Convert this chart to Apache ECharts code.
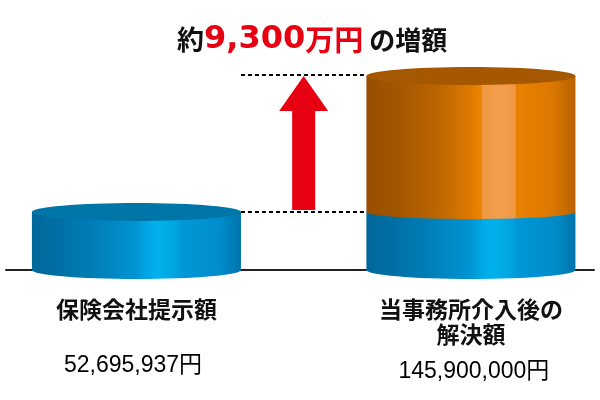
<!DOCTYPE html>
<html><head><meta charset="utf-8">
<script src="https://cdn.jsdelivr.net/npm/echarts@6/dist/echarts.min.js"></script>
<style>html,body{margin:0;padding:0;background:#fff}#c{width:600px;height:400px}</style>
</head><body><div id="c"></div>
<script>
// ---- data ----
const categories = ['保険会社提示額', '当事務所介入後の\n解決額'];
const offeredValues = [52695937, 52695937];      // blue part
const increaseValues = [0, 93204063];            // orange part (145,900,000 - 52,695,937)
const amountLabels = ['52,695,937円', '145,900,000円'];
const titleParts = ['約', '9,300', '万円', 'の増額'];

// ---- layout / style ----
const Y_MIN = 34130000;          // visual baseline of the (log) value axis
const Y_MAX = 145900000;
const BAR_W = 0.625;             // cylinder width in x units
const RY = 9;                    // ellipse half-height
const RY_JOIN = 7;

const blueGrad = {type:'linear', x:0, y:0, x2:1, y2:0, colorStops:[
  {offset:0, color:'#00679a'}, {offset:0.12, color:'#006fa3'}, {offset:0.3, color:'#007fb8'},
  {offset:0.5, color:'#0094d4'}, {offset:0.55, color:'#00a8e4'}, {offset:0.6, color:'#00b2ec'},
  {offset:0.68, color:'#00a6e2'}, {offset:0.72, color:'#0098d8'}, {offset:0.9, color:'#008ccb'},
  {offset:1, color:'#0074aa'}]};
const orangeGrad = {type:'linear', x:0, y:0, x2:1, y2:0, colorStops:[
  {offset:0, color:'#984f00'}, {offset:0.15, color:'#a35600'}, {offset:0.35, color:'#bd6600'},
  {offset:0.5, color:'#df7a00'}, {offset:0.55, color:'#ec8400'}, {offset:0.553, color:'#f0983f'},
  {offset:0.64, color:'#f2a050'}, {offset:0.712, color:'#f09842'}, {offset:0.716, color:'#e98100'},
  {offset:0.88, color:'#de7900'}, {offset:1, color:'#b86200'}]};

const barData = categories.map((c, i) => [i, offeredValues[i], offeredValues[i] + increaseValues[i]]);

function cylinderItem(params, api) {
  const i = api.value(0), base = api.value(1), total = api.value(2);
  const c0 = api.coord([i, Y_MIN]);
  const cB = api.coord([i, base]);
  const cT = api.coord([i, total]);
  const xl = api.coord([i - BAR_W / 2, Y_MIN])[0];
  const xr = api.coord([i + BAR_W / 2, Y_MIN])[0];
  const w = xr - xl, cx = (xl + xr) / 2, rx = w / 2;
  const ch = [];
  ch.push({type:'ellipse', shape:{cx:cx, cy:c0[1], rx:rx, ry:RY}, style:{fill:blueGrad}});
  ch.push({type:'rect', shape:{x:xl, y:cB[1], width:w, height:c0[1] - cB[1]}, style:{fill:blueGrad}});
  if (total > base) {
    ch.push({type:'ellipse', shape:{cx:cx, cy:cB[1], rx:rx, ry:RY_JOIN}, style:{fill:orangeGrad}});
    ch.push({type:'rect', shape:{x:xl, y:cT[1], width:w, height:cB[1] - cT[1]}, style:{fill:orangeGrad}});
    ch.push({type:'ellipse', shape:{cx:cx, cy:cT[1], rx:rx, ry:RY}, style:{fill:'#a65800'}});
  } else {
    ch.push({type:'ellipse', shape:{cx:cx, cy:cB[1], rx:rx, ry:RY}, style:{fill:'#0076a8'}});
  }
  const lines = categories[i].split('\n').length;
  ch.push({type:'text', x:cx, y:c0[1] + 27, style:{
    text:categories[i], fontSize:23, fontWeight:'bold', fontFamily:'"Noto Sans CJK JP"',
    fill:'#111', align:'center', verticalAlign:'top', lineHeight:25}});
  ch.push({type:'text', x:xl + 32, y:c0[1] + 96 + (lines - 1) * 5.5, style:{
    text:amountLabels[i], fontSize:23, fontFamily:'"Liberation Sans","Noto Sans CJK JP"',
    fill:'#000', align:'left', verticalAlign:'middle'}});
  return {type:'group', children:ch};
}

function arrowItem(params, api) {
  const lo = offeredValues[0], hi = offeredValues[1] + increaseValues[1];
  const xa = api.coord([0.5, lo])[0];
  const yB = api.coord([0.5, lo])[1];
  const yT = api.coord([0.5, hi])[1];
  const x1 = api.coord([0 + BAR_W / 2, lo])[0];
  const x2 = api.coord([1 - BAR_W / 2, lo])[0];
  const dash = {stroke:'#000', lineWidth:2, lineDash:[4, 3]};
  const head = 35, hw = 24.5, sw = 11.5;
  return {type:'group', children:[
    {type:'line', shape:{x1:x1, y1:Math.round(yT) - 1, x2:x2, y2:Math.round(yT) - 1}, style:dash},
    {type:'line', shape:{x1:x1, y1:Math.round(yB), x2:x2, y2:Math.round(yB)}, style:dash},
    {type:'polygon', shape:{points:[
      [xa, yT], [xa + hw, yT + head], [xa + sw, yT + head], [xa + sw, yB - 2],
      [xa - sw, yB - 2], [xa - sw, yT + head], [xa - hw, yT + head]]},
      style:{fill:'#e60012'}}
  ]};
}

const chart = echarts.init(document.getElementById('c'));
chart.setOption({
  animation:false,
  backgroundColor:'#fff',
  title:{
    text:'{a|' + titleParts[0] + '}{b|' + titleParts[1] + '}{c|' + titleParts[2] + '}{d|' + titleParts[3] + '}',
    left:172, top:19,
    textStyle:{rich:{
      a:{fontSize:27, fontWeight:'bold', color:'#111', fontFamily:'"Noto Sans CJK JP"'},
      b:{fontSize:32, fontWeight:'bold', color:'#e60012', fontFamily:'"DejaVu Sans"'},
      c:{fontSize:29, fontWeight:'bold', color:'#e60012', fontFamily:'"Noto Sans CJK JP"'},
      d:{fontSize:26, fontWeight:'bold', color:'#111', fontFamily:'"Noto Sans CJK JP"', padding:[0,0,0,6]}
    }}
  },
  grid:{left:6, right:6, top:76, bottom:130},
  xAxis:{type:'value', min:-0.39, max:1.368,
    axisLine:{show:true, onZero:false, lineStyle:{color:'#222', width:2}},
    axisTick:{show:false}, axisLabel:{show:false}, splitLine:{show:false}},
  yAxis:{type:'log', min:Y_MIN, max:Y_MAX, show:false, splitLine:{show:false}},
  series:[
    {type:'custom', renderItem:cylinderItem, data:barData, clip:false, z:3},
    {type:'custom', renderItem:arrowItem, data:[[0.5, 0]], clip:false, z:4, encode:{x:0}}
  ]
});
</script></body></html>
